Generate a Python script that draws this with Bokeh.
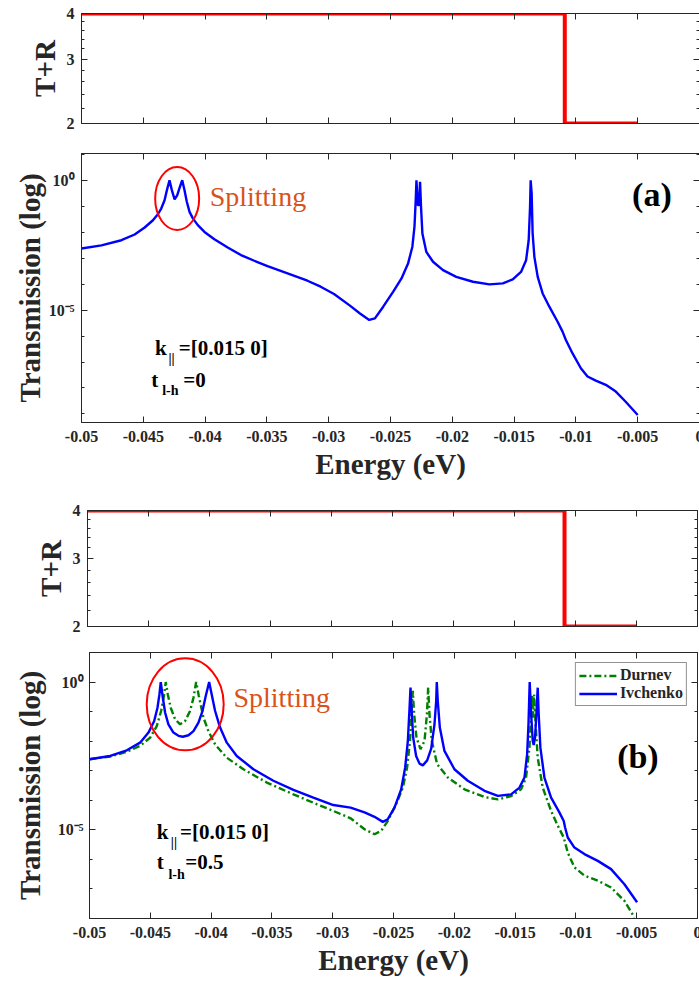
from bokeh.plotting import figure
from bokeh.models import (Range1d, FixedTicker, CustomJSTickFormatter, LinearAxis,
                          LogAxis, Label, Legend, LegendItem, CustomLabelingPolicy)
from bokeh.layouts import column
from bokeh.embed import file_html
from bokeh.resources import INLINE

FONT = "Liberation Serif"

# ---------------- data ----------------
energy_ticks = [-0.05, -0.045, -0.04, -0.035, -0.03, -0.025, -0.02, -0.015, -0.01, -0.005, 0.0]
energy_tick_labels = ["-0.05", "-0.045", "-0.04", "-0.035", "-0.03", "-0.025", "-0.02",
                      "-0.015", "-0.01", "-0.005", "0"]

tr_ticks = [2, 3, 4]
tr_minor = [2.2, 2.4, 2.6, 2.8, 3.2, 3.4, 3.6, 3.8]
tr_tick_labels = ["2", "3", "4"]

log_major = [1e-5, 1.0]
log_major_labels = ["10\u207b\u2075", "10\u2070"]
log_minor = [1e-9, 1e-8, 1e-7, 1e-6, 1e-5, 1e-4, 1e-3, 1e-2, 1e-1, 1.0, 10.0]

# T+R step (both panels)
tr_energy = [-0.05, -0.0109, -0.0109, -0.005]
tr_value = [4, 4, 2, 2]

# panel (a): energy and log10 of transmission
a_energy = [-0.05, -0.04839, -0.04677, -0.0457, -0.04489, -0.04422, -0.04382, -0.04355,
            -0.04328, -0.04309, -0.04288, -0.04269, -0.04247, -0.04226, -0.04204, -0.04185,
            -0.04167, -0.04148, -0.04126, -0.04099, -0.04059, -0.04005, -0.03925, -0.03817,
            -0.0371, -0.03602, -0.03495, -0.03333, -0.03172, -0.03065, -0.02957, -0.02828,
            -0.02747, -0.02672, -0.02626, -0.02559, -0.02478, -0.02411, -0.02358, -0.02323,
            -0.02306, -0.02296, -0.0229, -0.0228, -0.02269, -0.02261, -0.02253, -0.02242,
            -0.0221, -0.02156, -0.02075, -0.01968, -0.01833, -0.01699, -0.01591, -0.01511,
            -0.01444, -0.01403, -0.01382, -0.01371, -0.01366, -0.01358, -0.0135, -0.01336,
            -0.01309, -0.01269, -0.01215, -0.01148, -0.01108, -0.01081, -0.01027, -0.0096,
            -0.00906, -0.00839, -0.00758, -0.00677, -0.00597, -0.005]
a_log_t = [-2.63, -2.51, -2.31, -2.09, -1.82, -1.54, -1.31, -1.09, -0.77, -0.38, 0.0, -0.38,
           -0.74, -0.58, -0.26, 0.0, -0.38, -0.83, -1.22, -1.47, -1.73, -1.99, -2.27, -2.59,
           -2.88, -3.10, -3.31, -3.59, -3.87, -4.10, -4.38, -4.83, -5.13, -5.38, -5.32, -4.87,
           -4.29, -3.78, -3.21, -2.56, -1.79, -0.77, 0.0, -0.96, -0.96, -0.06, -1.03, -2.05,
           -2.76, -3.14, -3.46, -3.72, -3.91, -4.01, -3.97, -3.82, -3.53, -3.08, -2.31, -1.03,
           0.0, -0.51, -2.05, -2.95, -3.72, -4.36, -4.87, -5.45, -5.83, -6.15, -6.67, -7.24,
           -7.56, -7.72, -7.88, -8.14, -8.53, -9.04]

# panel (b): Ivchenko
b_energy_iv = [-0.05, -0.0483, -0.04693, -0.04584, -0.04515, -0.04468, -0.04441, -0.04425,
               -0.04414, -0.04397, -0.04378, -0.04351, -0.0431, -0.04268, -0.04233, -0.04186,
               -0.04145, -0.04104, -0.04071, -0.04044, -0.04016, -0.03995, -0.03967, -0.03926,
               -0.03871, -0.03789, -0.03652, -0.03488, -0.03323, -0.03159, -0.02995, -0.02853,
               -0.02738, -0.02656, -0.02588, -0.02547, -0.02492, -0.02437, -0.02404, -0.02382,
               -0.02368, -0.0236, -0.02352, -0.02338, -0.02314, -0.02286, -0.02259, -0.02223,
               -0.0219, -0.02163, -0.02149, -0.02144, -0.02136, -0.02119, -0.02081, -0.01999,
               -0.01889, -0.01752, -0.01642, -0.01533, -0.01464, -0.01423, -0.01401, -0.0139,
               -0.0138, -0.01368, -0.01355, -0.01347, -0.01336, -0.01325, -0.01314, -0.01306,
               -0.01292, -0.01259, -0.01204, -0.01136, -0.011, -0.01089, -0.01067, -0.01012,
               -0.0093, -0.0082, -0.00711, -0.00601, -0.00497]
b_log_iv = [-2.61, -2.50, -2.31, -2.05, -1.71, -1.32, -0.87, -0.42, 0.0, -0.53, -1.04, -1.43,
            -1.71, -1.82, -1.85, -1.80, -1.66, -1.37, -0.98, -0.47, 0.0, -0.42, -0.98, -1.54,
            -2.05, -2.50, -2.95, -3.34, -3.65, -3.91, -4.16, -4.25, -4.41, -4.56, -4.73, -4.64,
            -4.25, -3.63, -2.89, -1.99, -0.87, -0.19, -0.87, -1.88, -2.50, -2.76, -2.82, -2.65,
            -2.25, -1.43, -0.64, 0.0, -0.64, -1.54, -2.33, -2.95, -3.34, -3.68, -3.85, -3.80,
            -3.57, -3.23, -2.44, -1.43, 0.0, -1.09, -1.99, -2.13, -1.88, -1.09, -0.19, -1.09,
            -2.22, -3.23, -3.91, -4.41, -4.70, -4.92, -5.26, -5.60, -5.82, -6.05, -6.33, -6.84,
            -7.45]

# panel (b): Durnev
b_energy_du = [-0.05, -0.0483, -0.04693, -0.04584, -0.04501, -0.04447, -0.04411, -0.04386,
               -0.04373, -0.04356, -0.04332, -0.04296, -0.04255, -0.04214, -0.04173, -0.04145,
               -0.04123, -0.04101, -0.04063, -0.04022, -0.03967, -0.03871, -0.03734, -0.03542,
               -0.03323, -0.03132, -0.02995, -0.02853, -0.02738, -0.02656, -0.02601, -0.02547,
               -0.02478, -0.02423, -0.02388, -0.02364, -0.0235, -0.02341, -0.0233, -0.02311,
               -0.02278, -0.02245, -0.02225, -0.02215, -0.02204, -0.02185, -0.02141, -0.02053,
               -0.01916, -0.01752, -0.01642, -0.01533, -0.01451, -0.0141, -0.01382, -0.01368,
               -0.0136, -0.01352, -0.01344, -0.01333, -0.01314, -0.01273, -0.01204, -0.01149,
               -0.011, -0.01067, -0.01012, -0.0093, -0.0082, -0.00711, -0.00601, -0.00519]
b_log_du = [-2.61, -2.52, -2.36, -2.16, -1.88, -1.49, -0.98, -0.42, 0.0, -0.42, -0.87, -1.26,
            -1.43, -1.32, -0.98, -0.53, 0.0, -0.47, -1.20, -1.66, -2.11, -2.56, -2.95, -3.40,
            -3.80, -4.13, -4.36, -4.61, -4.98, -5.15, -5.03, -4.70, -4.13, -3.57, -2.89, -1.99,
            -0.87, -0.30, -1.09, -1.88, -2.27, -1.99, -1.09, -0.19, -1.09, -1.99, -2.78, -3.23,
            -3.63, -3.89, -3.97, -3.86, -3.63, -3.23, -2.22, -1.09, -0.42, -1.21, -0.42, -1.32,
            -2.56, -3.57, -4.36, -4.86, -5.26, -5.77, -6.27, -6.55, -6.72, -6.95, -7.40, -7.96]

AX = "#262626"


def nearest_formatter(vals, labels, log=False):
    code = """
    let best = 0;
    for (let i = 0; i < vals.length; i++) {
        const d = LOG ? Math.abs(Math.log10(vals[i]) - Math.log10(tick)) : Math.abs(vals[i] - tick);
        const db = LOG ? Math.abs(Math.log10(vals[best]) - Math.log10(tick)) : Math.abs(vals[best] - tick);
        if (d < db) best = i;
    }
    return labels[best];
    """.replace("LOG", "true" if log else "false")
    return CustomJSTickFormatter(args=dict(vals=vals, labels=labels), code=code)


def style_axis(ax, label_size="16px", show_labels=True, standoff=8):
    ax.axis_line_color = AX
    ax.axis_line_width = 1
    ax.major_tick_in = 6
    ax.major_tick_out = 0
    ax.minor_tick_in = 3
    ax.minor_tick_out = 0
    ax.major_tick_line_color = AX
    ax.minor_tick_line_color = AX
    ax.major_label_text_font = FONT
    ax.major_label_text_font_style = "bold"
    ax.major_label_text_color = AX
    ax.axis_label_text_font = FONT
    ax.axis_label_text_font_style = "bold"
    ax.axis_label_text_color = AX
    ax.axis_label_text_font_size = "29px"
    if show_labels:
        ax.major_label_text_font_size = label_size
        ax.major_label_standoff = standoff
    else:
        ax.major_label_text_font_size = "1px"
        ax.major_label_standoff = 0
        ax.major_label_policy = CustomLabelingPolicy(code="return []")


def make_fig(fw, fh, bl, bt, bb, y_range, y_ticker, y_formatter, x_labels, y_label,
             y_standoff, y_label_standoff, x_standoff=8, x_label_standoff=2):
    p = figure(frame_width=fw, frame_height=fh, min_border_left=bl, min_border_right=0,
               min_border_top=bt, min_border_bottom=bb,
               x_range=Range1d(-0.05, 0.0), y_range=y_range, y_axis_type="log",
               output_backend="svg", toolbar_location=None)
    p.grid.visible = False
    p.outline_line_color = AX
    p.outline_line_width = 1
    p.background_fill_color = "white"
    p.border_fill_color = "white"

    xt = FixedTicker(ticks=energy_ticks, minor_ticks=[])
    xf = nearest_formatter(energy_ticks, energy_tick_labels)

    xa = p.xaxis[0]
    xa.ticker = xt
    xa.formatter = xf
    style_axis(xa, show_labels=x_labels, standoff=x_standoff)
    if x_labels:
        xa.axis_label = "Energy (eV)"
        xa.axis_label_standoff = x_label_standoff

    ya = p.yaxis[0]
    ya.ticker = y_ticker
    ya.formatter = y_formatter
    style_axis(ya, standoff=y_standoff)
    ya.axis_label = y_label
    ya.axis_label_standoff = y_label_standoff

    top = LinearAxis(ticker=xt, formatter=xf)
    style_axis(top, show_labels=False)
    p.add_layout(top, "above")
    right = LogAxis(ticker=y_ticker, formatter=y_formatter)
    style_axis(right, show_labels=False)
    p.add_layout(right, "right")
    return p


def add_text(p, x, y, text, size, color=AX, bold=True, align="left", baseline="alphabetic"):
    p.add_layout(Label(x=x, y=y, text=text, text_font=FONT, text_font_size=f"{size}px",
                       text_font_style="bold" if bold else "normal", text_color=color,
                       text_align=align, text_baseline=baseline))


def tr_fig(fw, fh, bl, bt, bb, y_standoff, y_label_standoff):
    yt = FixedTicker(ticks=tr_ticks, minor_ticks=tr_minor)
    yf = nearest_formatter(tr_ticks, tr_tick_labels)
    p = make_fig(fw, fh, bl, bt, bb, Range1d(2, 4), yt, yf, False, "T+R",
                 y_standoff, y_label_standoff)
    p.line(tr_energy, tr_value, line_color="#ff0000", line_width=4)
    return p


def trans_fig(fw, fh, bl, bt, bb, ymin, ymax, y_standoff, y_label_standoff, x_label_standoff):
    yt = FixedTicker(ticks=log_major, minor_ticks=log_minor)
    yf = nearest_formatter(log_major, log_major_labels, log=True)
    return make_fig(fw, fh, bl, bt, bb, Range1d(ymin, ymax), yt, yf, True,
                    "Transmission (log)", y_standoff, y_label_standoff,
                    x_label_standoff=x_label_standoff)


SPLIT = "#d95319"

# ---- figure 1: T+R (a)
p1 = tr_fig(618, 110, 81, 13, 10, 7, 3)

# ---- figure 2: transmission (a)
p2 = trans_fig(618, 269, 81, 20, 62, 10 ** -9.33, 10 ** 1.03, 7, 0, 3)
p2.line(a_energy, [10 ** v for v in a_log_t], line_color="#0000ff", line_width=2.4)
p2.ellipse(x=[-0.04226], y=[10 ** -0.704], width=44, height=63, width_units="screen",
           height_units="screen", fill_color=None, line_color="#ff0000", line_width=2)
add_text(p2, -0.03963, 10 ** -0.642, "Splitting", 28, color=SPLIT, bold=False)
add_text(p2, -0.00385, 10 ** -0.54, "(a)", 34, color="black", align="center", baseline="middle")
add_text(p2, -0.04406, 10 ** -6.46, "k", 21, color="black")
add_text(p2, -0.04296, 10 ** -6.85, "||", 14, color="black")
add_text(p2, -0.04213, 10 ** -6.46, "=[0.015 0]", 21, color="black")
add_text(p2, -0.04435, 10 ** -7.69, "t", 21, color="black")
add_text(p2, -0.04347, 10 ** -8.10, "l-h", 14, color="black")
add_text(p2, -0.04177, 10 ** -7.69, "=0", 21, color="black")

# ---- figure 3: T+R (b)
p3 = tr_fig(610, 116, 87, 26, 10, 7, 3)

# ---- figure 4: transmission (b)
p4 = trans_fig(608, 266, 89, 16, 60, 1e-8, 10.0, 6, 9, 3)
r_du = p4.line(b_energy_du, [10 ** v for v in b_log_du], line_color="#008000", line_width=2.4,
               line_dash="7 3 2 3")
r_iv = p4.line(b_energy_iv, [10 ** v for v in b_log_iv], line_color="#0000ff", line_width=2.4)
p4.ellipse(x=[-0.04213], y=[10 ** -0.753], width=77, height=92, width_units="screen",
           height_units="screen", fill_color=None, line_color="#ff0000", line_width=2)
add_text(p4, -0.03816, 10 ** -0.53, "Splitting", 28, color=SPLIT, bold=False)
add_text(p4, -0.00490, 10 ** -2.53, "(b)", 34, color="black", align="center", baseline="middle")
add_text(p4, -0.04446, 10 ** -5.06, "k", 21, color="black")
add_text(p4, -0.04331, 10 ** -5.43, "||", 14, color="black")
add_text(p4, -0.04255, 10 ** -5.06, "=[0.015 0]", 21, color="black")
add_text(p4, -0.04446, 10 ** -6.10, "t", 21, color="black")
add_text(p4, -0.04351, 10 ** -6.50, "l-h", 14, color="black")
add_text(p4, -0.04213, 10 ** -6.10, "=0.5", 21, color="black")

legend = Legend(items=[LegendItem(label="Durnev", renderers=[r_du]),
                       LegendItem(label="Ivchenko", renderers=[r_iv])],
                location="top_right")
legend.margin = 10
legend.padding = 3
legend.spacing = 0
legend.label_text_font = FONT
legend.label_text_font_style = "bold"
legend.label_text_font_size = "16px"
legend.label_text_color = AX
legend.label_height = 17
legend.glyph_height = 17
legend.glyph_width = 38
legend.label_standoff = 3
legend.border_line_color = AX
legend.border_line_width = 1
legend.background_fill_alpha = 1
p4.add_layout(legend)

# each figure in its own container so that frames keep their own left borders
layout = column(column(p1), column(p2), column(p3), column(p4), spacing=0)

open("out.html", "w").write(file_html(layout, INLINE))
